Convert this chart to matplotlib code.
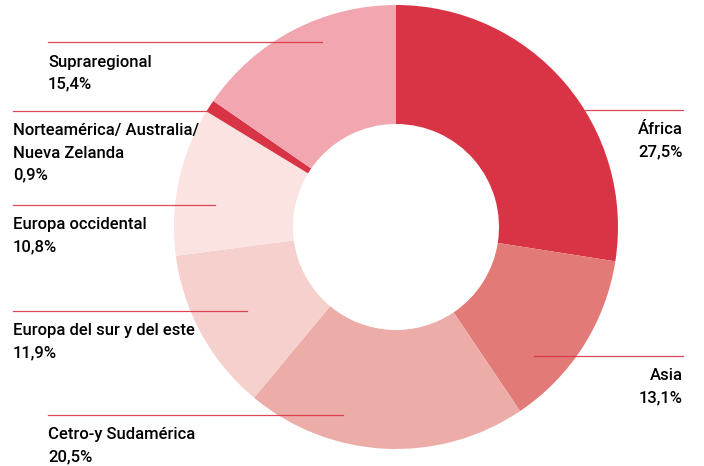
import matplotlib.pyplot as plt

# data (clockwise from 12 o'clock)
regions = ["África", "Asia", "Cetro-y Sudamérica", "Europa del sur y del este",
           "Europa occidental", "Norteamérica/ Australia/\nNueva Zelanda", "Supraregional"]
shares = [27.5, 13.1, 20.5, 11.9, 10.8, 0.9, 15.4]
share_labels = ["27,5%", "13,1%", "20,5%", "11,9%", "10,8%", "0,9%", "15,4%"]
colors = ["#d93446", "#e27a77", "#ecaca7", "#f5d0cc", "#fae3e1", "#d93446", "#f2a7b0"]

# label layout in pixel coords (y from top): line x0, x1, line y, text x, align
label_x0 = [585, 534, 48, 13, 13, 13, 48]
label_x1 = [683, 683, 343, 247, 215, 207, 322]
label_y = [110, 356, 415, 311, 205, 111, 42]
text_x = [683, 683, 48, 13, 13, 13, 48]
text_ha = ["right", "right", "left", "left", "left", "left", "left"]

W, H = 704, 466
red = "#d93446"

fig = plt.figure(figsize=(W / 100, H / 100), dpi=100)
ax = fig.add_axes([0, 0, 1, 1])

cx, cy, r_out, r_in = 396, 227, 222, 103
# y axis is flipped below, so -90 is "up" and counterclock runs clockwise on screen
ax.pie(shares, colors=colors, startangle=-90, counterclock=True,
       center=(cx, cy), radius=r_out, frame=True,
       wedgeprops=dict(width=r_out - r_in, linewidth=0))
ax.set_xlim(0, W)
ax.set_ylim(H, 0)
ax.set_aspect("equal")
ax.axis("off")

for i in range(len(regions)):
    ax.plot([label_x0[i], label_x1[i]], [label_y[i], label_y[i]],
            color=red, lw=0.9, alpha=0.9, zorder=5)
    lines = regions[i].split("\n") + [share_labels[i]]
    for k, t in enumerate(lines):
        ax.text(text_x[i], label_y[i] + 20 + 22 * k, t, ha=text_ha[i], va="center",
                fontsize=12, family="Roboto", fontweight="medium", color="#000000")

fig.savefig("out.png", dpi=100)
